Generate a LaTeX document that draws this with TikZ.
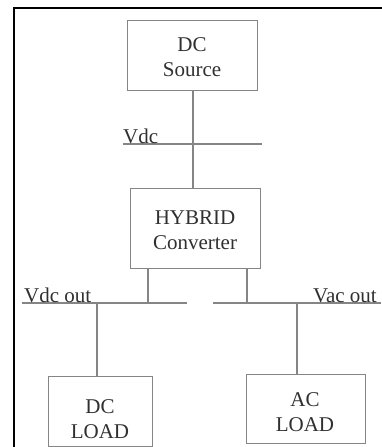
\documentclass[tikz,border=0pt]{standalone}
\usepackage{fontspec}
\setmainfont{Liberation Serif}
\definecolor{linecol}{HTML}{858585}
\definecolor{txtcol}{HTML}{303030}
\begin{document}
\begin{tikzpicture}[x=1pt,y=-1pt,
  wire/.style={draw=linecol, line width=1.1pt},
  blk/.style={draw=linecol, line width=1.1pt, inner sep=0pt, anchor=north west},
  txt/.style={text=txtcol, font=\fontsize{21}{24.5}\selectfont, align=center, inner sep=0pt},
  lbl/.style={text=txtcol, font=\fontsize{21}{24}\selectfont, inner sep=0pt, anchor=base west},
  frame/.style={draw=black, line width=2.2pt}]
\useasboundingbox (0,0) rectangle (381,447);
% outer frame
\coordinate (fa) at (14,448);
\coordinate (fb) at (14,8);
\coordinate (fc) at (382,8);
\draw[frame] (fa) -- (fb) -- (fc);
% boxes
\node[blk, minimum width=130pt, minimum height=70pt] (src) at (127,20) {};
\node[blk, minimum width=130pt, minimum height=80pt] (hyb) at (130,188) {};
\node[blk, minimum width=104pt, minimum height=70pt] (dcl) at (48,376) {};
\node[blk, minimum width=119pt, minimum height=69pt] (acl) at (246,374) {};
% texts
\node[txt] (srct) at (192,57) {DC\\Source};
\node[txt] (hybt) at (195,230) {HYBRID\\Converter};
\node[txt] (dclt) at (100,419) {DC\\LOAD};
\node[txt] (aclt) at (305,412) {AC\\LOAD};
% Vdc bus
\coordinate (vdcL) at (123,144);
\coordinate (vdcR) at (262,144);
\draw[wire] (vdcL) -- (vdcR);
\draw[wire] (src.south -| 193,0) -- (hyb.north -| 193,0);
\node[lbl] (vdclbl) at (123,143) {Vdc};
% output buses
\coordinate (bl1) at (22,303);
\coordinate (bl2) at (187,303);
\coordinate (br1) at (213,303);
\coordinate (br2) at (381,303);
\draw[wire] (bl1) -- (bl2);
\draw[wire] (br1) -- (br2);
\draw[wire] (hyb.south -| 148,0) -- (148,303);
\draw[wire] (hyb.south -| 247,0) -- (247,303);
\draw[wire] (97,303) -- (dcl.north -| 97,0);
\draw[wire] (297,303) -- (acl.north -| 297,0);
\node[lbl] (vdcout) at (24,302) {Vdc out};
\node[lbl] (vacout) at (313,302) {Vac out};
\end{tikzpicture}
\end{document}
